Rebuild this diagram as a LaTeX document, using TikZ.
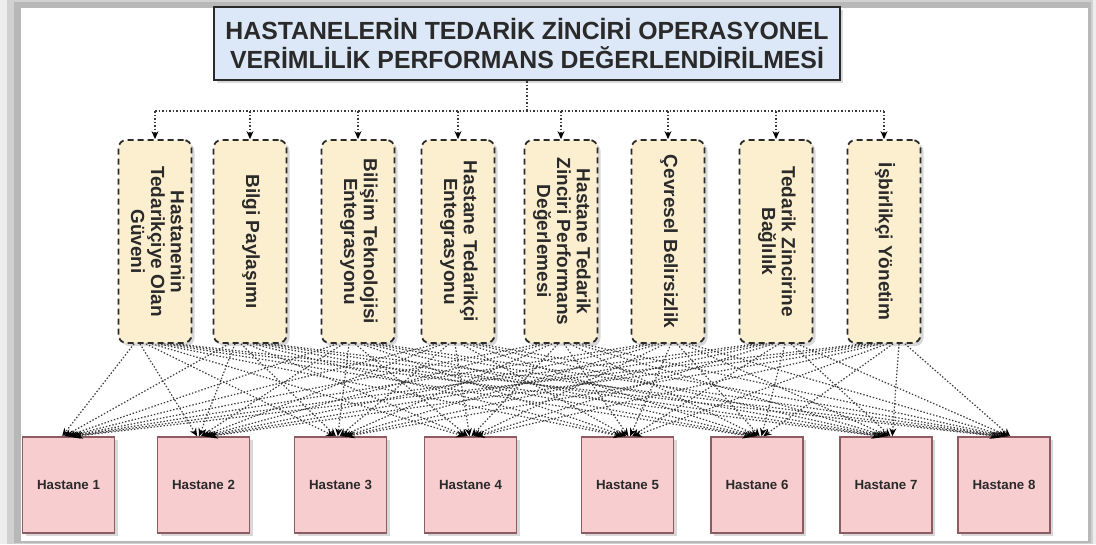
\documentclass[tikz,border=0pt]{standalone}
\usepackage{fontspec}
\setmainfont{Liberation Sans}
\usetikzlibrary{shadows,arrows.meta,calc}
\definecolor{titlefill}{HTML}{DCE8F7}
\definecolor{factorfill}{HTML}{FCEFD0}
\definecolor{hospfill}{HTML}{F8CDCF}
\definecolor{hospline}{HTML}{8C5C60}
\definecolor{inkc}{HTML}{2A2A2A}
\definecolor{linkc}{HTML}{3A3A3A}
% vertical (top-to-bottom) multi-line label
\newcommand{\vlab}[1]{\rotatebox{-90}{\begin{tabular}{@{}c@{}}#1\end{tabular}}}
\renewcommand{\arraystretch}{0.95}

\begin{document}
\begin{tikzpicture}[x=1pt,y=-1pt,
  boxshadow/.style={drop shadow={shadow xshift=3pt,shadow yshift=-3pt,opacity=0.3}},
  titlebox/.style={draw=inkc, line width=2pt, fill=titlefill, minimum width=626pt,
    minimum height=73pt, inner sep=0pt, boxshadow, text=inkc,
    font=\fontsize{24.8}{29}\selectfont\bfseries, align=center},
  factorbox/.style={draw=inkc, line width=1.8pt, dash pattern=on 6pt off 4pt,
    rounded corners=8pt, fill=factorfill, minimum width=73pt, minimum height=203pt,
    inner sep=0pt, boxshadow, text=inkc, font=\fontsize{19}{21}\selectfont\bfseries},
  hospbox/.style={draw=hospline, line width=1.5pt, fill=hospfill, minimum width=92pt,
    minimum height=96pt, inner sep=0pt, boxshadow, text=inkc,
    font=\fontsize{13.3}{16}\selectfont\bfseries},
  tip/.style={-{Stealth[length=8pt,width=7pt,color=black]}},
  link/.style={draw=linkc, line width=1.2pt, dash pattern=on 1.4pt off 1.9pt, tip},
  treeline/.style={draw=linkc, line width=1.1pt, dash pattern=on 1.5pt off 2pt}
]
\useasboundingbox (0,0) rectangle (1096,544);

% framed panel with a soft grey border
\fill[black!7] (0,0) rectangle (1096,544);
\fill[black!18] (7,0) rectangle (1093,544);
\fill[black!28] (14,2) rectangle (1091,543);
\fill[white] (21,8) rectangle (1088,541);

% title
\node[titlebox] (title) at (527,43.5)
  {HASTANELERİN TEDARİK ZİNCİRİ OPERASYONEL\\VERİMLİLİK PERFORMANS DEĞERLENDİRİLMESİ};

% factors
\node[factorbox] (f1) at (155,241.5) {\vlab{Hastanenin\\Tedarikçiye Olan\\Güveni}};
\node[factorbox] (f2) at (250,241.5) {\vlab{Bilgi Paylaşımı}};
\node[factorbox] (f3) at (358,241.5) {\vlab{Bilişim Teknolojisi\\Entegrasyonu}};
\node[factorbox] (f4) at (458,241.5) {\vlab{Hastane Tedarikçi\\Entegrasyonu}};
\node[factorbox] (f5) at (561,241.5) {\vlab{Hastane Tedarik\\Zinciri Performans\\Değerlemesi}};
\node[factorbox] (f6) at (668,241.5) {\vlab{Çevresel Belirsizlik}};
\node[factorbox] (f7) at (776,241.5) {\vlab{Tedarik Zincirine\\Bağlılık}};
\node[factorbox] (f8) at (884,241.5) {\vlab{İşbirlikçi Yönetim}};

% hospitals
\node[hospbox] (h1) at (68.5,485) {Hastane 1};
\node[hospbox] (h2) at (203.5,485) {Hastane 2};
\node[hospbox] (h3) at (340.5,485) {Hastane 3};
\node[hospbox] (h4) at (470.5,485) {Hastane 4};
\node[hospbox] (h5) at (627.5,485) {Hastane 5};
\node[hospbox] (h6) at (757,485) {Hastane 6};
\node[hospbox] (h7) at (886,485) {Hastane 7};
\node[hospbox] (h8) at (1004,485) {Hastane 8};

% tree from the title down to the factors
\draw[treeline] (title.south) -- ++(0,30) coordinate (bus);
\draw[treeline] (f1.north |- bus) -- (f8.north |- bus);
\foreach \i in {1,...,8}
  \draw[treeline, tip] (f\i.north |- bus) -- (f\i.north);

% every factor linked to every hospital
\foreach \i in {1,...,8}{
  \foreach \j in {1,...,8}{
    \draw[link] ($(f\i.south)+({(\j-4.5)*6},0)$) -- ($(h\j.north)+({(\i-4.5)*1.8},0)$);
  }
}
\end{tikzpicture}
\end{document}
